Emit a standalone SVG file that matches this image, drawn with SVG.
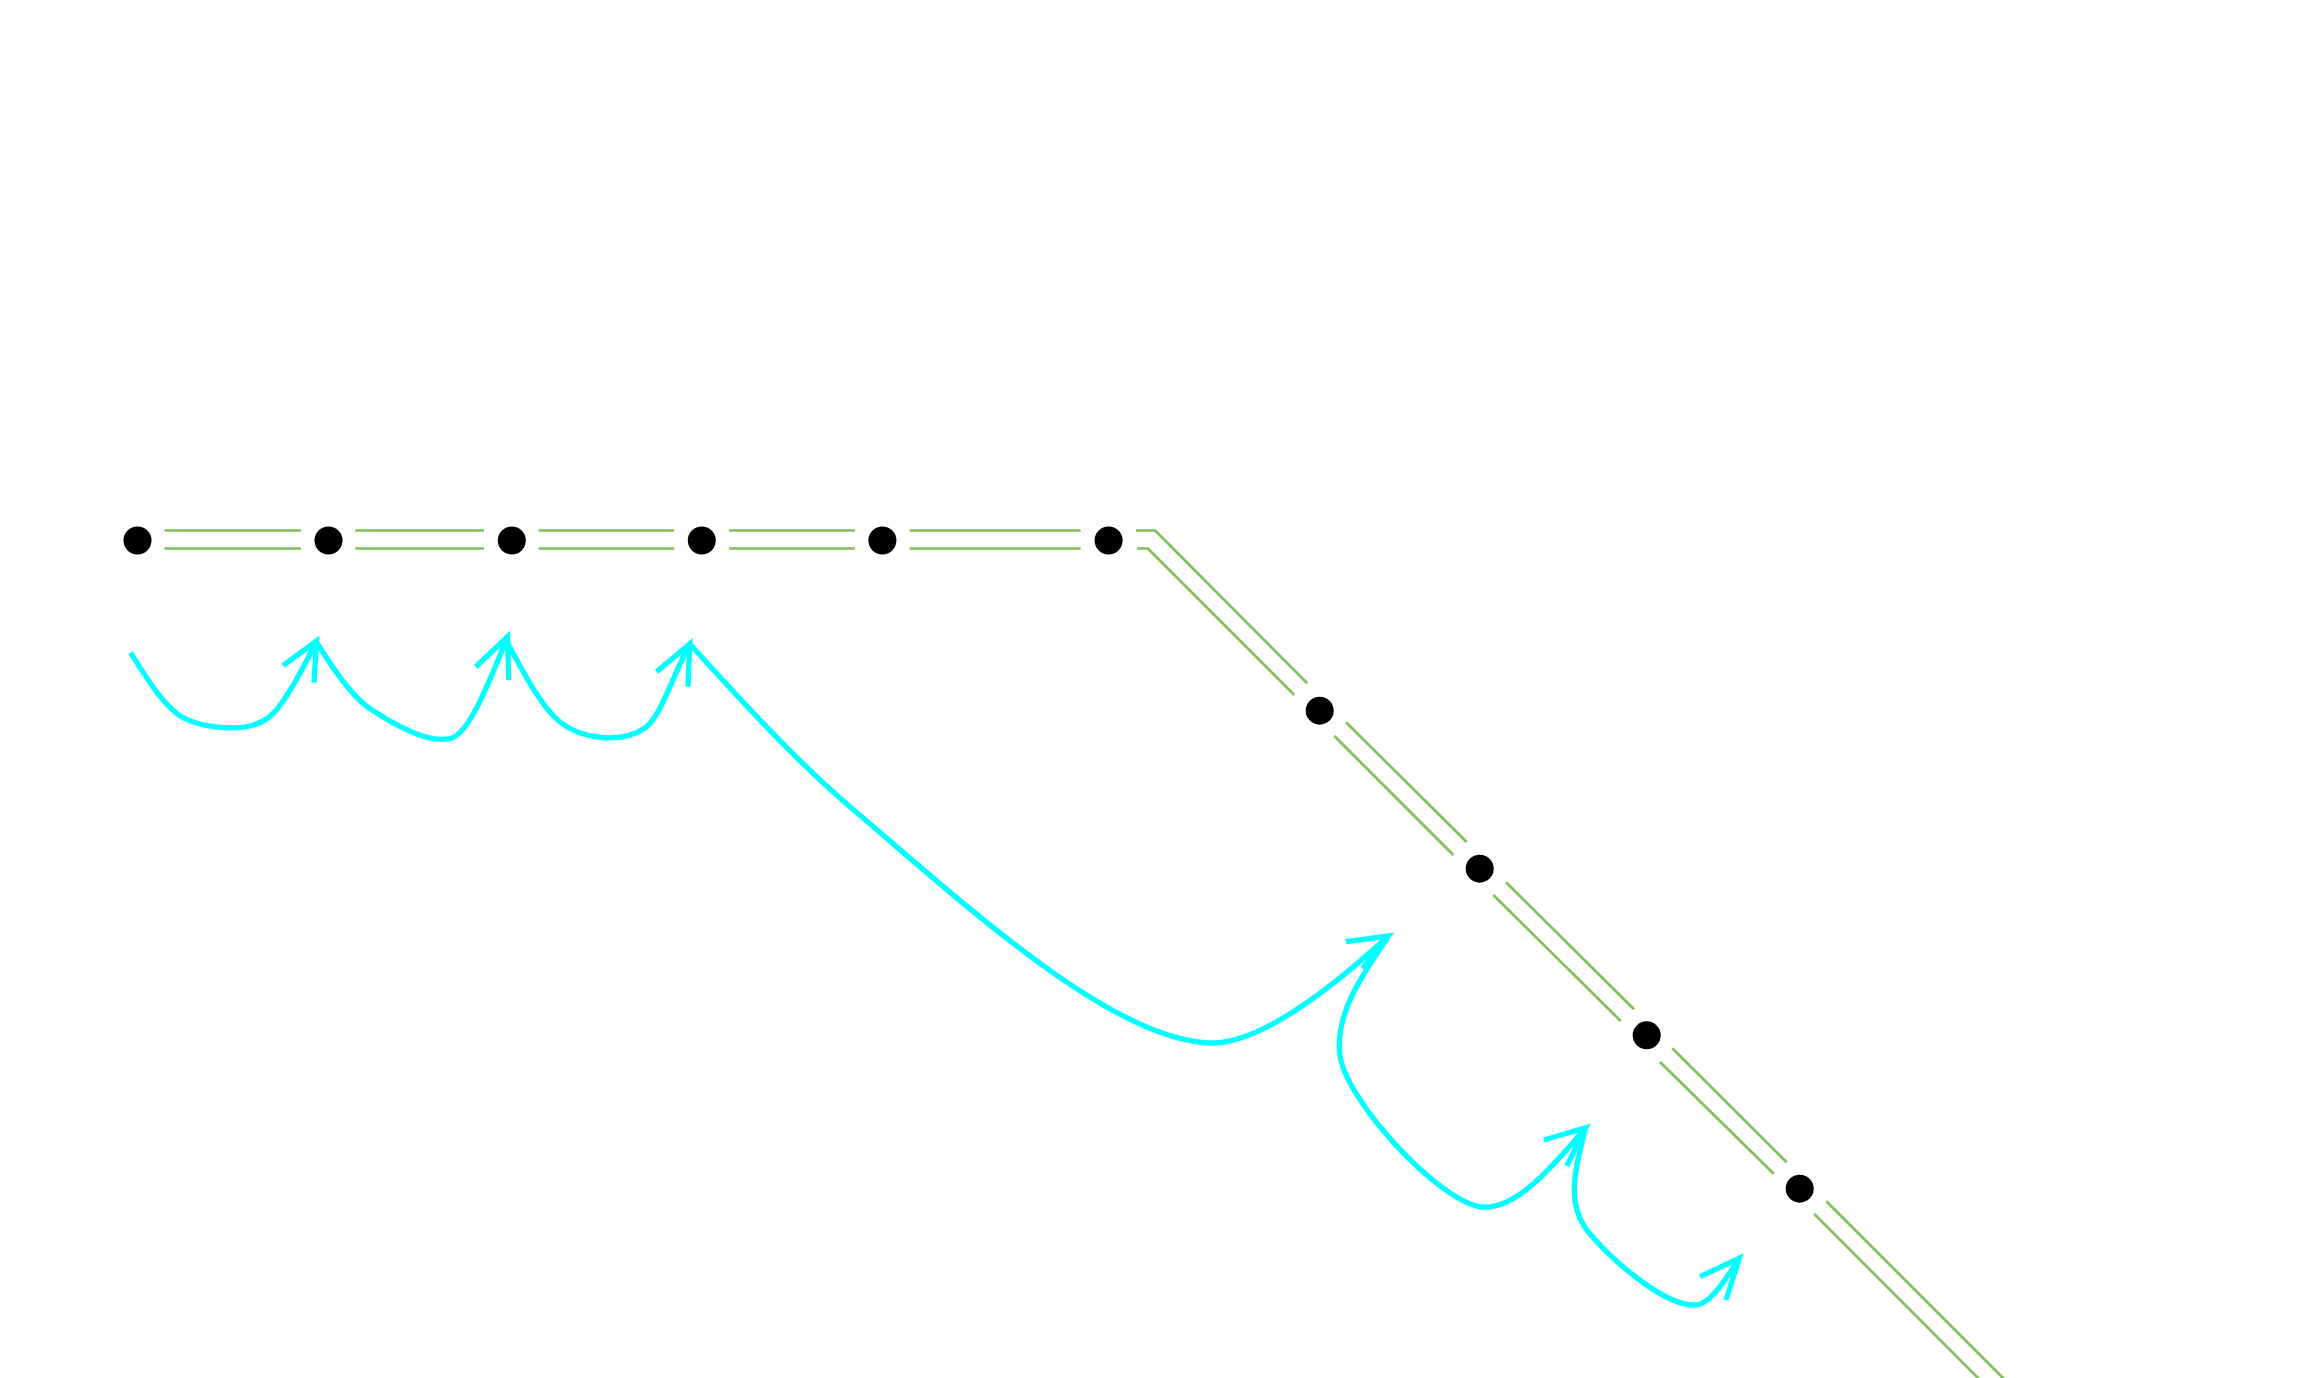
<svg xmlns="http://www.w3.org/2000/svg" width="2304" height="1378" viewBox="0 0 2304 1378">
<style>
.node{fill:#000}
.rail{stroke:#7cc25a;stroke-width:2.7;fill:none}
.jump{stroke:#00ffff;stroke-width:5.3;fill:none;stroke-linejoin:miter;stroke-miterlimit:10}
</style>
<rect width="2304" height="1378" fill="#fff"/>
<g id="connectors">
<g id="rails">
<path class="rail" d="M164.5,530.5H301M164.5,548.5H301"/>
<path class="rail" d="M355.3,530.5H484M355.3,548.5H484"/>
<path class="rail" d="M538.6,530.5H674M538.6,548.5H674"/>
<path class="rail" d="M729,530.5H855M729,548.5H855"/>
<path class="rail" d="M909.6,530.5H1080.7M909.6,548.5H1080.7"/>
<path class="rail" d="M1136,530.5H1155.2L1307.3,683.3M1137,548.5H1147.8L1294.3,695"/>
<path class="rail" d="M1346,722.3L1466.7,842M1334.3,736L1453.3,855"/>
<path class="rail" d="M1506,882.3L1634,1009.3M1493.3,895L1620.7,1021"/>
<path class="rail" d="M1672.3,1048.3L1786.7,1162.3M1660,1062L1773.7,1173.7"/>
<path class="rail" d="M1826.3,1201.3L2040,1415M1814.3,1214L2020,1420"/>
</g>
<g id="jumps">
<path class="jump" d="M130.6,652.7C150,684 166,708 182,717C200,727 245,735 268,718C282,708 300,675 316.5,641"/>
<path class="jump" d="M283,665.7L316.5,641L314,682.7"/>
<path class="jump" d="M317,643C335,672 355,700 372,710C395,725 430,745 452,738C470,732 490,680 507.6,636.7"/>
<path class="jump" d="M475.8,666.7L507.6,636.7L508.7,680"/>
<path class="jump" d="M507.6,643C525,675 542,708 560,722C580,738 620,745 645,728C660,718 672,678 689.6,644"/>
<path class="jump" d="M656.7,671.7L689.8,644L688,686.7"/>
<path class="jump" d="M690.7,645C743.7,703.3 797,761.7 850,806.7C960,900.2 1113,1043 1213,1043C1260,1043 1330,990 1388.3,936"/>
<path class="jump" d="M1345.8,941.7L1388.3,936L1362.5,968.3"/>
<path class="jump" d="M1388,937C1360,978 1335,1015 1340,1055C1345,1100 1440,1203 1482,1207C1515,1210 1550,1170 1585.7,1127.7"/>
<path class="jump" d="M1544,1140L1585.7,1127.7L1566.7,1166"/>
<path class="jump" d="M1585,1130C1575,1170 1565,1205 1590,1234C1615,1263 1665,1306 1695,1305C1710,1305 1725,1280 1739.3,1258.3"/>
<path class="jump" d="M1700,1276.7L1739.3,1258.3L1726,1300"/>
</g>
</g>
<g id="n1"><circle class="node" cx="137.5" cy="540.5" r="14"/></g>
<g id="n2"><circle class="node" cx="328.5" cy="540.5" r="14"/></g>
<g id="n3"><circle class="node" cx="511.8" cy="540.5" r="14"/></g>
<g id="n4"><circle class="node" cx="701.8" cy="540.5" r="14"/></g>
<g id="n5"><circle class="node" cx="882.4" cy="540.5" r="14"/></g>
<g id="n6"><circle class="node" cx="1108.6" cy="540.5" r="14"/></g>
<g id="n7"><circle class="node" cx="1319.7" cy="710.7" r="14"/></g>
<g id="n8"><circle class="node" cx="1479.7" cy="868.7" r="14"/></g>
<g id="n9"><circle class="node" cx="1646.7" cy="1035.3" r="14"/></g>
<g id="n10"><circle class="node" cx="1799.7" cy="1188.7" r="14"/></g>
</svg>
